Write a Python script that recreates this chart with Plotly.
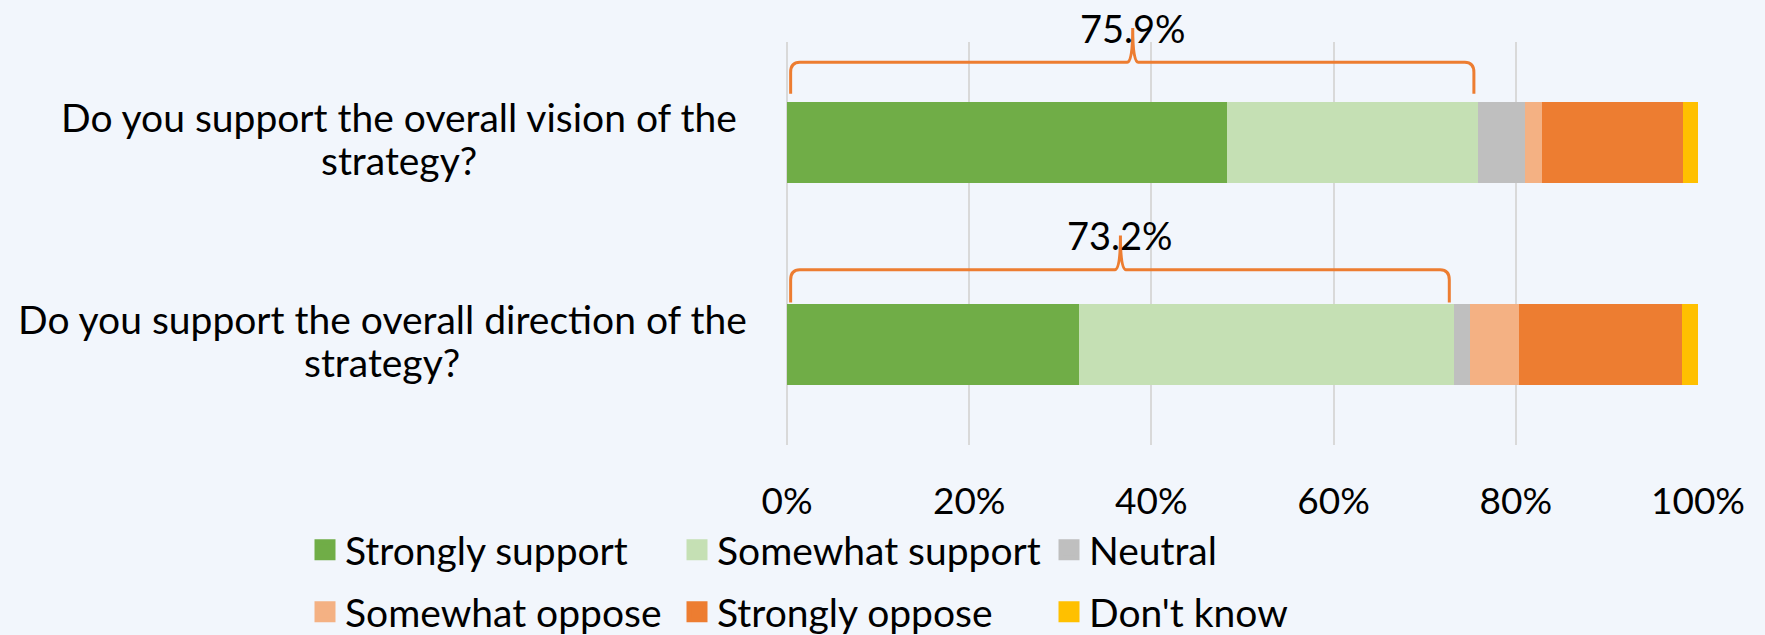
import plotly.graph_objects as go

# ---------------- data ----------------
categories = [
    "Do you support the overall vision of the<br>strategy?",
    "Do you support the overall direction of the<br>strategy?",
]
series_names = ["Strongly support", "Somewhat support", "Neutral",
                "Somewhat oppose", "Strongly oppose", "Don't know"]
strongly_support = [48.3, 32.1]
somewhat_support = [27.6, 41.1]
neutral = [5.1, 1.8]
somewhat_oppose = [1.9, 5.3]
strongly_oppose = [15.4, 17.9]
dont_know = [1.7, 1.8]
support_totals = [75.9, 73.2]
tick_values = [0, 20, 40, 60, 80, 100]
tick_labels = ["0%", "20%", "40%", "60%", "80%", "100%"]

# ---------------- style ----------------
colors = ["#70AD47", "#C5E0B4", "#BFBFBF", "#F4B183", "#ED7D31", "#FFC000"]
bg = "#F2F6FC"
FONT = "Lato"
FS_TICK = 37
FS_DATA = 38
FS_CAT = 39
FS_LEG = 39
W, H = 1765, 635
ML, MR, MT, MB = 787, 67, 42, 190
PW, PH = W - ML - MR, H - MT - MB

series_values = [strongly_support, somewhat_support, neutral,
                 somewhat_oppose, strongly_oppose, dont_know]

n = len(categories)
ypos = [n - 1 - i for i in range(n)]  # first category on top


def y_to_paper(y):
    return (y + 0.5) / n


def px_to_paper_x(px):
    return (px - ML) / PW


def px_to_paper_y(py):
    return (H - MB - py) / PH


fig = go.Figure()
for name, vals, col in zip(series_names, series_values, colors):
    fig.add_trace(go.Bar(
        x=vals, y=ypos, orientation="h", name=name,
        marker=dict(color=col, line=dict(width=0)),
        showlegend=False, legendgroup=name, hoverinfo="x+name",
    ))

# legend entries (larger square icons), split in two rows
for i, (name, col) in enumerate(zip(series_names, colors)):
    fig.add_trace(go.Scatter(
        x=[None], y=[None], mode="markers", name=name, legendgroup=name,
        marker=dict(symbol="square", size=16, color=col,
                    line=dict(color=col, width=8)),
        legend="legend" if i < 3 else "legend2",
    ))

# brackets + total labels (y in paper units so nothing is clipped)
bottom_off = [0.243, 0.207]
mid_off = [0.40, 0.37]
peak_off = [0.57, 0.54]
shapes = []
annotations = []
for i, (t, yc) in enumerate(zip(support_totals, ypos)):
    x0, x1, xm = 0.4, t - 0.5, t / 2
    yb = y_to_paper(yc + bottom_off[i])
    yh = y_to_paper(yc + mid_off[i])
    yp = y_to_paper(yc + peak_off[i])
    r, ry, d = 1.0, 0.05 / n, 0.6
    path = (f"M {x0},{yb} L {x0},{yh - ry} Q {x0},{yh} {x0 + r},{yh} "
            f"L {xm - d},{yh} Q {xm},{yh} {xm},{yp} Q {xm},{yh} {xm + d},{yh} "
            f"L {x1 - r},{yh} Q {x1},{yh} {x1},{yh - ry} L {x1},{yb}")
    shapes.append(dict(type="path", path=path, xref="x", yref="paper",
                       line=dict(color="#ED7D31", width=3), layer="above"))
    annotations.append(dict(x=xm, y=yp, xref="x", yref="paper", text=f"{t}%",
                            showarrow=False, xanchor="center", yanchor="middle",
                            font=dict(family=FONT, size=FS_DATA, color="#000000")))

# category labels: centred lines, tight line spacing
label_center_px = [399, 382]
line_shifts = [[26, -17], [25, -18]]
for cat, yc, cx, shifts in zip(categories, ypos, label_center_px, line_shifts):
    for line, ys in zip(cat.split("<br>"), shifts):
        annotations.append(dict(x=px_to_paper_x(cx), y=y_to_paper(yc),
                                xref="paper", yref="paper", text=line,
                                showarrow=False, xanchor="center",
                                yanchor="middle", yshift=ys, borderpad=0,
                                font=dict(family=FONT, size=FS_CAT,
                                          color="#000000")))

legend_common = dict(orientation="h", xref="paper", yref="paper",
                     xanchor="left", yanchor="middle", bgcolor="rgba(0,0,0,0)",
                     entrywidth=327, entrywidthmode="pixels",
                     font=dict(family=FONT, size=FS_LEG, color="#000000"),
                     traceorder="normal")

fig.update_layout(
    width=W, height=H,
    margin=dict(l=ML, r=MR, t=MT, b=MB, pad=0, autoexpand=False),
    paper_bgcolor=bg, plot_bgcolor=bg,
    barmode="stack", bargap=0.6,
    font=dict(family=FONT, size=FS_TICK, color="#000000"),
    xaxis=dict(range=[0, 100], tickvals=tick_values, ticktext=tick_labels,
               showgrid=True, gridcolor="#D9D9D9", gridwidth=1.5,
               zeroline=True, zerolinecolor="#D9D9D9", zerolinewidth=1.5,
               showline=False, ticks="", ticklabelstandoff=31,
               tickfont=dict(family=FONT, size=FS_TICK, color="#000000"),
               fixedrange=True),
    yaxis=dict(range=[-0.5, n - 0.5], showticklabels=False, showgrid=False,
               zeroline=False, showline=False, fixedrange=True),
    shapes=shapes, annotations=annotations,
    legend=dict(x=px_to_paper_x(305), y=px_to_paper_y(550), **legend_common),
    legend2=dict(x=px_to_paper_x(305), y=px_to_paper_y(612), **legend_common),
    showlegend=True,
)

fig.write_html("out.html")
